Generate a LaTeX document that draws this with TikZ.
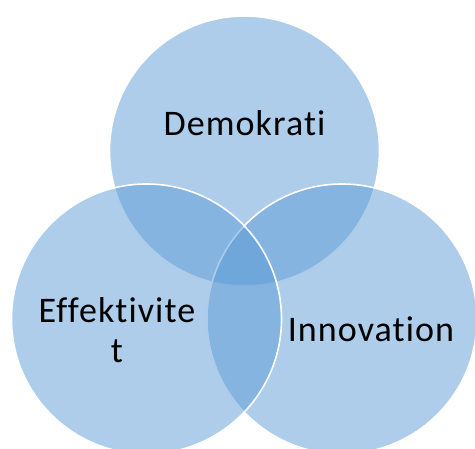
\documentclass[tikz,border=0pt]{standalone}
\usepackage{fontspec}
\setmainfont[RawFeature=-liga]{Carlito}
\definecolor{accent}{RGB}{91,155,213}
\begin{document}
\begin{tikzpicture}[x=1pt,y=-1pt,
  venn/.style={circle, minimum size=270pt, inner sep=0pt, fill=accent, fill opacity=0.5, draw=white, draw opacity=1, line width=1.6pt},
  label/.style={font=\fontsize{36}{40}\selectfont\addfontfeatures{LetterSpace=3}, text=black, inner sep=0pt, align=center}]
\useasboundingbox (0,0) rectangle (475,449);
\clip (0,0) rectangle (475,449);
\node[venn] (top) at (244.5,151) {};
\node[venn] (right) at (342,319) {};
\node[venn] (left) at (146.5,319) {};
\node[label, anchor=base] (tD) at (244.5,136) {Demokrati};
\node[label, anchor=base] (tI) at (371,342) {Innovation};
\node[label, anchor=north] (tE) at (117,297) {Effektivite\\t};
\end{tikzpicture}
\end{document}
